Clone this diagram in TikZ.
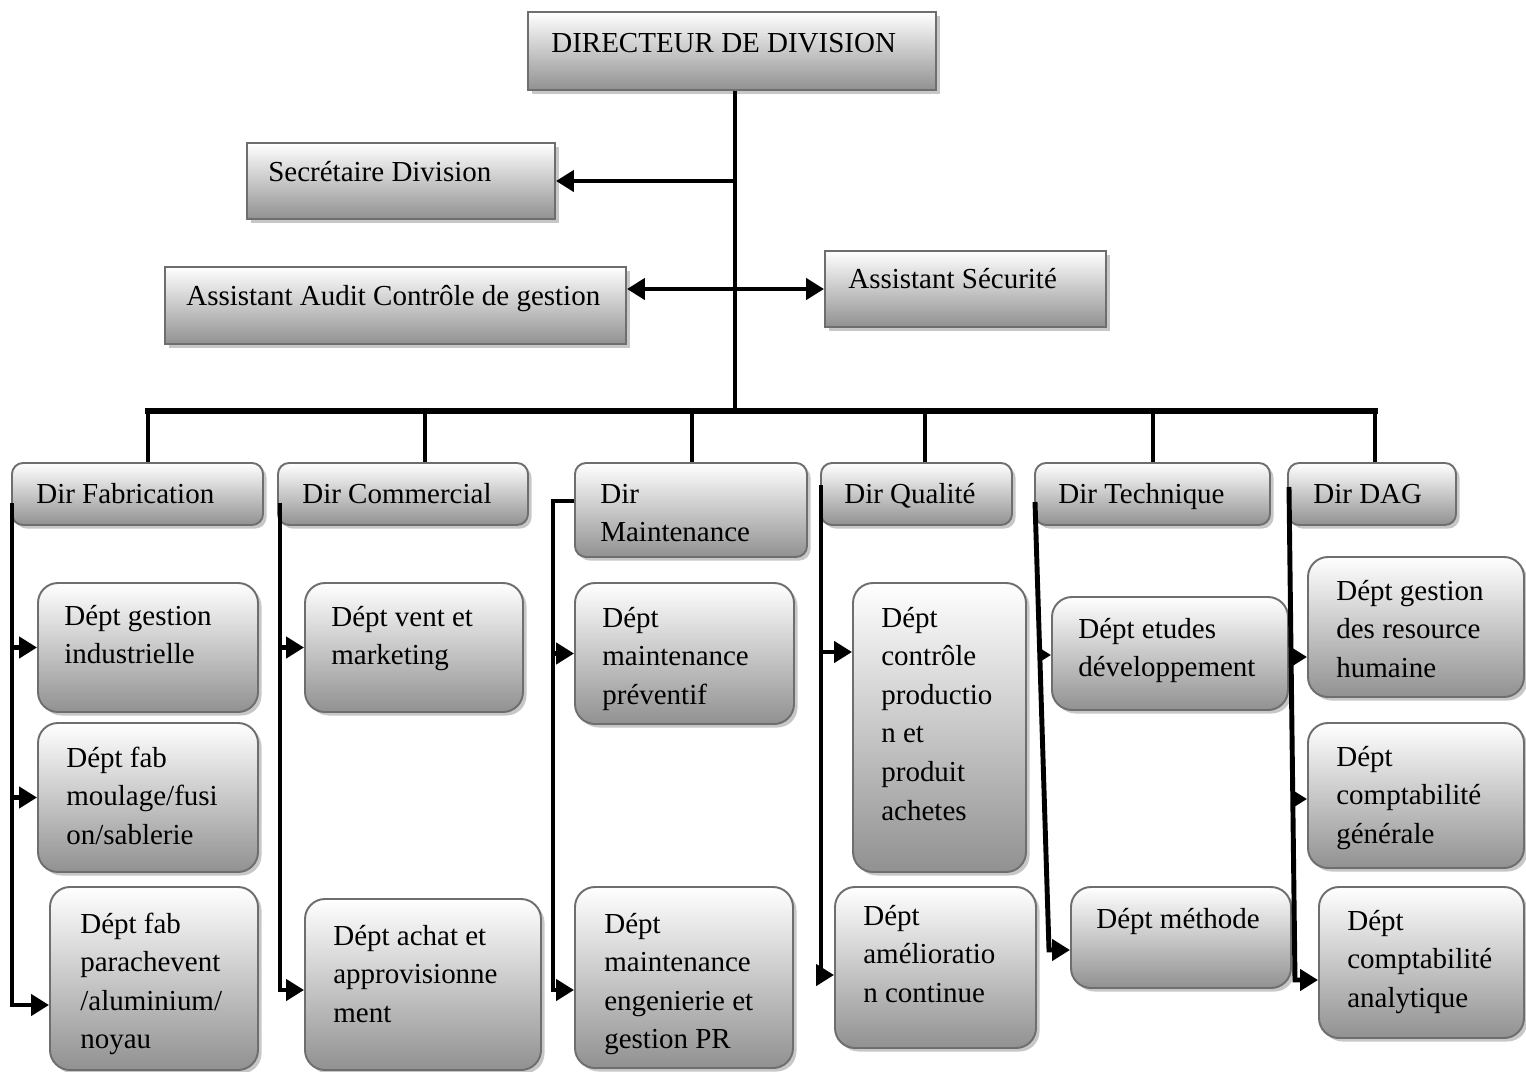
\documentclass[tikz,border=0pt]{standalone}
\usepackage{fontspec}
\setmainfont{Liberation Serif}
\usetikzlibrary{arrows.meta,shadows,fit}

\definecolor{boxedge}{RGB}{110,110,110}
\definecolor{boxlow}{RGB}{145,145,145}

\tikzset{
  unitbox/.style={draw=boxedge, line width=1.1pt, top color=white, bottom color=boxlow,
    inner sep=0pt,
    drop shadow={shadow xshift=0.07cm, shadow yshift=-0.07cm, fill=black, opacity=0.22}},
  headbox/.style={unitbox},
  dirbox/.style={unitbox, rounded corners=0.22cm},
  deptbox/.style={unitbox, rounded corners=0.4cm},
  wire/.style={line width=2.8pt},
  dropwire/.style={line width=2.3pt},
  buswire/.style={line width=3.4pt, line cap=rect},
  arr/.style={wire, -{Triangle[length=0.36cm,width=0.42cm]}},
  smallarr/.style={wire, -{Triangle[length=0.26cm,width=0.3cm]}},
  darr/.style={wire, {Triangle[length=0.36cm,width=0.42cm]}-{Triangle[length=0.36cm,width=0.42cm]}},
  txt/.style={anchor=base west, inner sep=0pt, font=\fontsize{16.5}{22}\selectfont},
}

% box: style, name, x1, y1, x2, y2 (pixel grid, y downwards)
\newcommand{\orgbox}[6]{\node[#1, fit={(#3,#4) (#5,#6)}] (#2) {};}
% label: name, x, baseline y, lines
\newcommand{\orglabel}[4]{\node[txt] (#1) at (#2,#3) {\parbox[t]{12cm}{\raggedright #4}};}

\begin{document}
\begin{tikzpicture}[x=0.02cm, y=-0.02cm]
\useasboundingbox (0,0) rectangle (1526,1072);

% ---- boxes ----
\orgbox{headbox}{dir}{528}{12}{936}{90}
\orgbox{headbox}{sec}{247}{143}{555}{219}
\orgbox{headbox}{aud}{165}{267}{626}{344}
\orgbox{headbox}{sau}{825}{251}{1106}{327}

\orgbox{dirbox}{fab}{12}{463}{263}{525}
\orgbox{dirbox}{com}{278}{463}{528}{525}
\orgbox{dirbox}{mnt}{575}{463}{807}{557}
\orgbox{dirbox}{qua}{821}{463}{1012}{525}
\orgbox{dirbox}{tec}{1035}{463}{1270}{525}
\orgbox{dirbox}{dag}{1288}{463}{1456}{525}

\orgbox{deptbox}{f1}{38}{583}{258}{712}
\orgbox{deptbox}{f2}{38}{723}{258}{872}
\orgbox{deptbox}{f3}{50}{887}{258}{1070}
\orgbox{deptbox}{c1}{305}{583}{523}{712}
\orgbox{deptbox}{c2}{305}{899}{541}{1070}
\orgbox{deptbox}{m1}{575}{583}{794}{724}
\orgbox{deptbox}{m2}{575}{887}{793}{1068}
\orgbox{deptbox}{q1}{853}{583}{1026}{872}
\orgbox{deptbox}{q2}{835}{887}{1036}{1048}
\orgbox{deptbox}{t1}{1052}{597}{1288}{710}
\orgbox{deptbox}{t2}{1071}{887}{1291}{988}
\orgbox{deptbox}{g1}{1308}{557}{1524}{697}
\orgbox{deptbox}{g2}{1308}{723}{1524}{868}
\orgbox{deptbox}{g3}{1319}{887}{1524}{1038}

% ---- top hierarchy ----
\coordinate (bus) at (735,411);
\draw[wire] (bus |- dir.south) -- (bus);
\draw[arr] (bus |- sec.east) -- (sec.east);
\draw[darr] (aud.east |- sau.west) -- (sau.west);

\coordinate (d1) at (148,411);
\coordinate (d2) at (425,411);
\coordinate (d3) at (692,411);
\coordinate (d4) at (925,411);
\coordinate (d5) at (1153,411);
\coordinate (d6) at (1375,411);
\draw[buswire] (d1) -- (d6);
\draw[dropwire] (d1) -- (d1 |- fab.north);
\draw[dropwire] (d2) -- (d2 |- com.north);
\draw[dropwire] (d3) -- (d3 |- mnt.north);
\draw[dropwire] (d4) -- (d4 |- qua.north);
\draw[dropwire] (d5) -- (d5 |- tec.north);
\draw[dropwire] (d6) -- (d6 |- dag.north);

% ---- Fabrication ----
\coordinate (k1) at (12,503);
\coordinate (k1b) at (12,1005);
\draw[arr] (k1) -- (k1b) -- (k1b -| f3.west);
\draw[arr] (k1 |- f1.west) -- (f1.west);
\draw[arr] (k1 |- f2.west) -- (f2.west);

% ---- Commercial ----
\coordinate (k2) at (280,503);
\coordinate (k2b) at (280,990);
\draw[arr] (k2) -- (k2b) -- (k2b -| c2.west);
\draw[arr] (k2 |- c1.west) -- (c1.west);

% ---- Maintenance ----
\coordinate (k3) at (553,501);
\coordinate (k3b) at (553,990);
\draw[arr] (k3 -| mnt.west) -- (k3) -- (k3b) -- (k3b -| m2.west);
\draw[arr] (k3 |- m1.west) -- (m1.west);

% ---- Qualite ----
\coordinate (k4) at (821,485);
\coordinate (k4a) at (821,652);
\coordinate (k4b) at (821,975);
\draw[arr] (k4) -- (k4b) -- (k4b -| q2.west);
\draw[arr] (k4a) -- (k4a -| q1.west);

% ---- Technique ----
\coordinate (k5) at (1035,502);
\coordinate (k5a) at (1040,655);
\coordinate (k5b) at (1049,950);
\draw[arr] (k5) -- (k5b) -- (k5b -| t2.west);
\draw[smallarr] (k5a) -- (k5a -| t1.west);

% ---- DAG ----
\coordinate (k6) at (1289,487);
\coordinate (k6a) at (1291,657);
\coordinate (k6c) at (1293,799);
\coordinate (k6b) at (1295,980);
\draw[arr] (k6) -- (k6b) -- (k6b -| g3.west);
\draw[arr] (k6a) -- (k6a -| g1.west);
\draw[smallarr] (k6c) -- (k6c -| g2.west);

% ---- texts ----
\orglabel{dir-t}{551}{52}{DIRECTEUR DE DIVISION}
\orglabel{sec-t}{268}{181}{Secrétaire Division}
\orglabel{aud-t}{186}{305}{Assistant Audit Contrôle de gestion}
\orglabel{sau-t}{848}{288}{Assistant Sécurité}

\orglabel{fab-t}{36}{503}{Dir Fabrication}
\orglabel{com-t}{302}{503}{Dir Commercial}
\orglabel{mnt-t}{600}{503}{Dir\\Maintenance}
\orglabel{qua-t}{844}{503}{Dir Qualité}
\orglabel{tec-t}{1058}{503}{Dir Technique}
\orglabel{dag-t}{1313}{503}{Dir DAG}

\orglabel{f1-t}{64}{625}{Dépt gestion\\industrielle}
\orglabel{f2-t}{66}{767}{Dépt fab\\moulage/fusi\\on/sablerie}
\orglabel{f3-t}{80}{933}{Dépt fab\\parachevent\\/aluminium/\\noyau}
\orglabel{c1-t}{331}{626}{Dépt vent et\\marketing}
\orglabel{c2-t}{333}{945}{Dépt achat et\\approvisionne\\ment}
\orglabel{m1-t}{602}{627}{Dépt\\maintenance\\préventif}
\orglabel{m2-t}{604}{933}{Dépt\\maintenance\\engenierie et\\gestion PR}
\orglabel{q1-t}{881}{627}{Dépt\\contrôle\\productio\\n et\\produit\\achetes}
\orglabel{q2-t}{863}{925}{Dépt\\amélioratio\\n continue}
\orglabel{t1-t}{1078}{638}{Dépt etudes\\développement}
\orglabel{t2-t}{1096}{928}{Dépt méthode}
\orglabel{g1-t}{1336}{600}{Dépt gestion\\des resource\\humaine}
\orglabel{g2-t}{1336}{766}{Dépt\\comptabilité\\générale}
\orglabel{g3-t}{1347}{930}{Dépt\\comptabilité\\analytique}
\end{tikzpicture}
\end{document}
